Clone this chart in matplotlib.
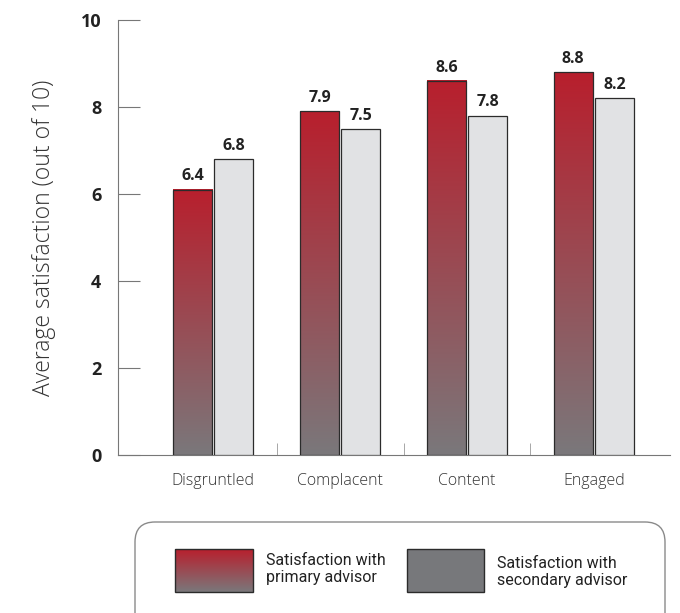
import numpy as np
import matplotlib.pyplot as plt
from matplotlib.patches import Rectangle, FancyBboxPatch
from matplotlib.colors import LinearSegmentedColormap

categories = ['Disgruntled', 'Complacent', 'Content', 'Engaged']
primary_heights = [6.1, 7.9, 8.6, 8.8]
primary_labels = ['6.4', '7.9', '8.6', '8.8']
secondary_heights = [6.8, 7.5, 7.8, 8.2]
secondary_labels = ['6.8', '7.5', '7.8', '8.2']
y_ticks = [0, 2, 4, 6, 8, 10]

plt.rcParams['font.family'] = ['Open Sans', 'DejaVu Sans']

red_grey = LinearSegmentedColormap.from_list('rg', ['#7a787b', '#b81f2d'])
grad = np.linspace(0, 1, 256).reshape(-1, 1)

fig = plt.figure(figsize=(6.8, 6.13), dpi=100)
ax = fig.add_axes([118 / 680, 1 - 455 / 613, 552 / 680, 435 / 613])

x = np.arange(len(categories))
width = 0.31
gap = 0.015

for i in range(len(categories)):
    x0 = x[i] - width - gap / 2
    h = primary_heights[i]
    ax.imshow(grad, cmap=red_grey, extent=(x0, x0 + width, 0, h), origin='lower',
              aspect='auto', zorder=2)
    ax.add_patch(Rectangle((x0, 0), width, h, fill=False, edgecolor='#2b2b2b', lw=0.9, zorder=3))
    ax.text(x0 + width / 2, h + 0.12, primary_labels[i], ha='center', va='bottom',
            fontsize=11.5, fontweight='bold', color='#222222')

    x1 = x[i] + gap / 2
    h2 = secondary_heights[i]
    ax.add_patch(Rectangle((x1, 0), width, h2, facecolor='#e1e2e4', edgecolor='#2b2b2b', lw=0.9, zorder=3))
    ax.text(x1 + width / 2, h2 + 0.12, secondary_labels[i], ha='center', va='bottom',
            fontsize=11.5, fontweight='bold', color='#222222')

ax.set_xlim(-0.75, 3.6)
ax.set_ylim(0, 10)

for s in ['top', 'right']:
    ax.spines[s].set_visible(False)
ax.spines['left'].set_color('#777777')
ax.spines['bottom'].set_color('#777777')

ax.set_yticks(y_ticks)
ax.set_yticklabels([str(t) for t in y_ticks], fontsize=13, fontweight='bold', color='#222222')
ax.tick_params(axis='y', direction='in', length=16, color='#777777', pad=12)

ax.set_xticks((x[:-1] + x[1:]) / 2, minor=True)
ax.set_xticks(x)
ax.set_xticklabels(categories, fontsize=11.5, color='#333333', fontweight='light')
ax.tick_params(axis='x', which='major', length=0, pad=13)
ax.tick_params(axis='x', which='minor', direction='in', length=9, color='#999999')

ax.set_ylabel('Average satisfaction (out of 10)', fontsize=16.5, color='#333333',
              fontweight='light', labelpad=18)

# legend box at bottom, in pixel coordinates
lax = fig.add_axes([0, 0, 1, 1], zorder=-1)
lax.set_xlim(0, 680)
lax.set_ylim(613, 0)
lax.axis('off')
lax.add_patch(FancyBboxPatch((135, 522), 530, 120, boxstyle='round,pad=0,rounding_size=20',
                             facecolor='white', edgecolor='#8a8a8a', lw=1))
lax.imshow(grad, cmap=red_grey, extent=(175, 253, 592, 549), origin='lower',
           aspect='auto', zorder=2)
lax.add_patch(Rectangle((175, 549), 78, 43, fill=False, edgecolor='#2b2b2b', lw=1, zorder=3))
lax.add_patch(Rectangle((407, 549), 77, 43, facecolor='#77787b', edgecolor='#2b2b2b', lw=1, zorder=3))
narrow = ['Roboto', 'DejaVu Sans']
lax.text(266, 569, 'Satisfaction with\nprimary advisor', ha='left', va='center',
         fontsize=11.5, color='#222222', linespacing=1.2, family=narrow)
lax.text(497, 572, 'Satisfaction with\nsecondary advisor', ha='left', va='center',
         fontsize=11.5, color='#222222', linespacing=1.2, family=narrow)
lax.set_xlim(0, 680)
lax.set_ylim(613, 0)

fig.savefig('out.png', dpi=100)
